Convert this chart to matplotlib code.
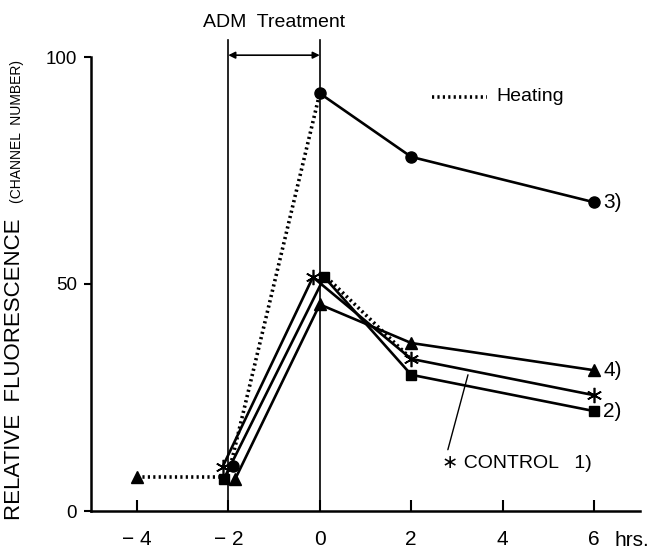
import matplotlib
matplotlib.use("Agg")
import matplotlib.pyplot as plt

plt.rcParams['font.family'] = ['Liberation Sans', 'DejaVu Sans']

# ---- data ----
x_circle = [-1.9, 0.0, 2.0, 6.0]
y_circle = [10.0, 92.0, 78.0, 68.0]          # 3)

x_square = [-2.1, 0.1, 2.0, 6.0]
y_square = [7.0, 51.5, 30.0, 22.0]           # 2)

x_control = [-2.12, -0.15, 2.0, 6.0]
y_control = [9.8, 51.5, 33.5, 25.5]          # CONTROL 1)

x_tri = [-1.85, 0.0, 2.0, 6.0]
y_tri = [7.0, 45.5, 37.0, 31.0]              # 4)

x_tri_start = [-4.0]
y_tri_start = [7.5]

x_heat_a = [-4.0, -2.1]
y_heat_a = [7.5, 7.5]
x_heat_b = [-1.95, 0.0]
y_heat_b = [10.0, 92.0]
x_heat_c = [0.15, 1.95]
y_heat_c = [51.5, 34.0]

xticks = [-4, -2, 0, 2, 4, 6]
xticklabels = ["\u2212 4", "\u2212 2", "0", "2", "4", "6"]
yticks = [0, 50, 100]
yticklabels = ["0", "50", "100"]

fig = plt.figure(figsize=(6.62, 5.49), dpi=100)
ax = fig.add_axes([91/662, 38/549, 549/662, 454/549])
ax.set_xlim(-5, 7)
ax.set_ylim(0, 100)

lw = 1.9
dot_style = dict(color='black', linewidth=2.6, linestyle=(0, (0.6, 0.9)), clip_on=False, zorder=2)

# heating dotted segments
ax.plot(x_heat_a, y_heat_a, **dot_style)
ax.plot(x_heat_b, y_heat_b, **dot_style)
ax.plot(x_heat_c, y_heat_c, **dot_style)

# curve 3 (circles): the -2 -> 0 segment is the heating dotted line
ax.plot(x_circle[1:], y_circle[1:], color='black', lw=lw, clip_on=False, zorder=3)
ax.plot(x_circle, y_circle, linestyle='none', marker='o', ms=8, color='black', clip_on=False, zorder=4)

ax.plot(x_square, y_square, color='black', lw=lw, marker='s', ms=7.5, clip_on=False, zorder=3)
ax.plot(x_control, y_control, color='black', lw=lw, clip_on=False, zorder=3)
ax.plot(x_control, y_control, linestyle='none', marker=(6, 2, 0), ms=11, mew=1.2,
        color='black', clip_on=False, zorder=4)
ax.plot(x_tri, y_tri, color='black', lw=lw, marker='^', ms=9, clip_on=False, zorder=3)
ax.plot(x_tri_start, y_tri_start, linestyle='none', marker='^', ms=9, color='black', clip_on=False, zorder=3)

# ADM treatment lines
for xv in (-2, 0):
    ax.plot([xv, xv], [0, 103.8], color='black', lw=1.2, clip_on=False, zorder=1)
ax.annotate("", xy=(-2, 100.4), xytext=(0, 100.4),
            arrowprops=dict(arrowstyle='<|-|>', color='black', lw=1.2,
                            mutation_scale=10, shrinkA=0, shrinkB=0),
            annotation_clip=False)
ax.text(-1.0, 107.7, "ADM  Treatment", ha='center', va='center', fontsize=14)

# legend for heating
ax.plot([2.45, 3.65], [91.2, 91.2], **dot_style)
ax.text(3.87, 91.2, "Heating", ha='left', va='center', fontsize=14)

# end labels
ax.text(6.2, 68, "3)", ha='left', va='center', fontsize=15)
ax.text(6.2, 31, "4)", ha='left', va='center', fontsize=15)
ax.text(6.2, 22, "2)", ha='left', va='center', fontsize=15)

# control annotation
ax.annotate("", xy=(3.24, 30.0), xytext=(2.8, 13.5),
            arrowprops=dict(arrowstyle='-', color='black', lw=1.0, shrinkA=0, shrinkB=0))
ax.text(2.68, 10.5, "\u2217 CONTROL   1)", ha='left', va='center', fontsize=14)

# axes styling
for s in ('top', 'right'):
    ax.spines[s].set_visible(False)
ax.spines['left'].set_linewidth(1.8)
ax.spines['bottom'].set_linewidth(1.8)
ax.set_xticks(xticks)
ax.set_xticklabels(xticklabels, fontsize=15)
ax.set_yticks(yticks)
ax.set_yticklabels(yticklabels, fontsize=13.5)
ax.tick_params(axis='x', direction='in', length=8, width=1.5, pad=14)
ax.tick_params(axis='y', direction='out', length=5, width=1.5, pad=5)

ax.text(6.45, -6.4, "hrs.", ha='left', va='center', fontsize=15, clip_on=False)

# y label in two pieces
fig.text(15/662, 1 - 520/549, "RELATIVE  FLUORESCENCE", rotation=90,
         ha='center', va='bottom', fontsize=16)
fig.text(17/662, 1 - 203/549, "(CHANNEL  NUMBER)", rotation=90,
         ha='center', va='bottom', fontsize=10)

fig.savefig("out.png", dpi=100)
